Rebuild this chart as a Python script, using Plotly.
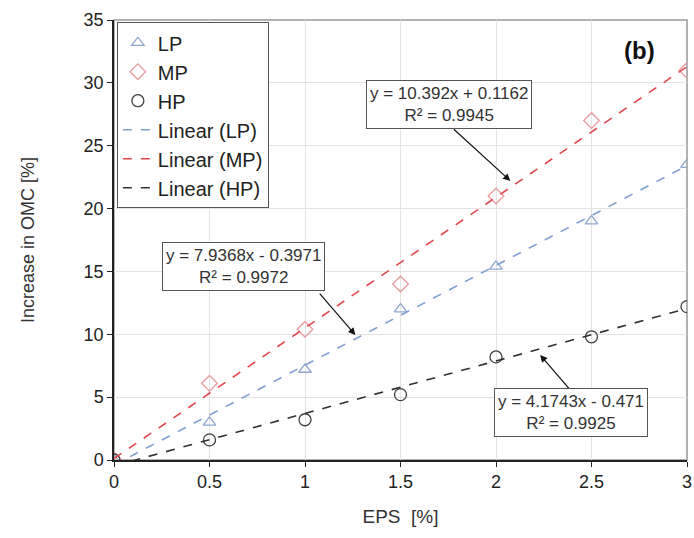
import plotly.graph_objects as go

eps = [0, 0.5, 1, 1.5, 2, 2.5, 3]
lp = [0, 3.0, 7.2, 12.0, 15.4, 19.0, 23.5]
mp = [0, 6.1, 10.4, 14.0, 21.0, 27.0, 31.0]
hp = [0, 1.6, 3.2, 5.2, 8.2, 9.8, 12.2]

fit_lp = (7.9368, -0.3971)
fit_mp = (10.392, 0.1162)
fit_hp = (4.1743, -0.471)

fit_x = [0, 3]

FONT = "Liberation Sans, Arial, sans-serif"
c_lp = "#8EA6CF"
c_mp = "#E89A9E"
c_hp = "#404040"
l_lp = "#7F9FD0"
l_mp = "#E0474C"
l_hp = "#303030"

fig = go.Figure()
fig.add_trace(go.Scatter(x=eps, y=lp, mode="markers", name="LP",
                         marker=dict(symbol="triangle-up-open", size=11, color=c_lp, line=dict(width=1.3))))
fig.add_trace(go.Scatter(x=eps, y=mp, mode="markers", name="MP",
                         marker=dict(symbol="diamond-open", size=12, color=c_mp, line=dict(width=1.3))))
fig.add_trace(go.Scatter(x=eps, y=hp, mode="markers", name="HP",
                         marker=dict(symbol="circle-open", size=12, color=c_hp, line=dict(width=1.3))))
for name, (a, b), col in [("Linear (LP)", fit_lp, l_lp), ("Linear (MP)", fit_mp, l_mp), ("Linear (HP)", fit_hp, l_hp)]:
    fig.add_trace(go.Scatter(x=fit_x, y=[a * x + b for x in fit_x], mode="lines", name=name,
                             line=dict(color=col, width=1.6, dash="dash")))

def box(x, y, text):
    fig.add_annotation(x=x, y=y, text=text, showarrow=False, bgcolor="white",
                       bordercolor="#555555", borderwidth=1, borderpad=3,
                       font=dict(family=FONT, size=17, color="#333333"), align="center")

def arrow(x, y, ax, ay):
    fig.add_annotation(x=x, y=y, ax=ax, ay=ay, text="", showarrow=True, arrowhead=2,
                       arrowsize=1.2, arrowwidth=1.2, arrowcolor="#111111")

arrow(2.075, 22.2, -58, -53)
arrow(1.264, 9.94, -37, -43)
arrow(2.231, 8.35, 32, 37)
box(1.752, 28.24, "y = 10.392x + 0.1162<br>R² = 0.9945")
box(0.676, 15.43, "y = 7.9368x - 0.3971<br>R² = 0.9972")
box(2.392, 3.74, "y = 4.1743x - 0.471<br>R² = 0.9925")

fig.add_annotation(x=2.75, y=32.6, text="<b>(b)</b>", showarrow=False,
                   font=dict(family=FONT, size=24, color="#111111"))

axis_common = dict(showgrid=True, gridcolor="#E3E3E3", gridwidth=1, ticks="outside",
                   ticklen=5, tickcolor="#222", showline=True, linecolor="#222", linewidth=1.5,
                   tickfont=dict(family=FONT, size=18, color="#222"), zeroline=False, mirror=False,
                   ticklabeloverflow="allow")

fig.update_layout(
    width=694, height=538,
    margin=dict(l=114, r=7, t=20, b=78),
    paper_bgcolor="white", plot_bgcolor="white",
    font=dict(family=FONT, color="#222"),
    xaxis=dict(range=[0, 3], dtick=0.5, automargin=False, title=dict(text="EPS  [%]", font=dict(family=FONT, size=19, color="#333"), standoff=18), **axis_common),
    yaxis=dict(range=[0, 35], dtick=5, title=dict(text="Increase in OMC [%]", font=dict(family=FONT, size=18, color="#333"), standoff=44), **axis_common),
    legend=dict(x=0.005, y=0.995, xanchor="left", yanchor="top", bgcolor="white",
                bordercolor="#555555", borderwidth=1, font=dict(family=FONT, size=20, color="#222"),
                tracegroupgap=0, itemwidth=30),
    showlegend=True,
)
fig.add_shape(type="rect", xref="paper", yref="paper", x0=0, y0=0, x1=1, y1=1,
              line=dict(color="#999999", width=1.5), layer="below")

fig.write_html("out.html", config={"displayModeBar": False},
               post_script="document.body.style.margin='0';")
